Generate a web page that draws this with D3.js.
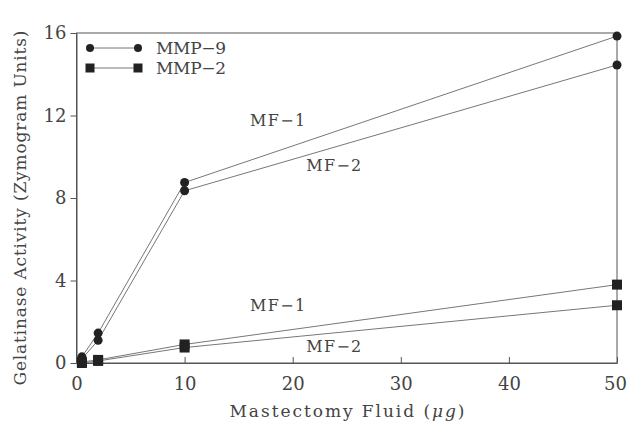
<!DOCTYPE html>
<html>
<head>
<meta charset="utf-8">
<script src="https://cdn.jsdelivr.net/npm/d3@7"></script>
<style>
  body { margin: 0; background: #fff; }
  text { font-family: "DejaVu Serif", "Liberation Serif", serif; fill: #444; }
</style>
</head>
<body>
<div id="chart"></div>
<script>
// data
const doses = [0.5, 2, 10, 50];
const mmp9MF1 = [0.3, 1.45, 8.75, 15.85];
const mmp9MF2 = [0.2, 1.1, 8.35, 14.45];
const mmp2MF1 = [0.05, 0.15, 0.9, 3.8];
const mmp2MF2 = [0.0, 0.1, 0.75, 2.8];
const xTicks = [0, 10, 20, 30, 40, 50];
const yTicks = [0, 4, 8, 12, 16];
// annotation labels: [text, x, y] in data units
const seriesLabels = [
  ["MF\u22121", 18.6, 11.5],
  ["MF\u22122", 23.8, 9.3],
  ["MF\u22121", 18.6, 2.5],
  ["MF\u22122", 23.8, 0.55]
];

const svgWidth = 627;
const svgHeight = 421;
const margin = { top: 33, right: 10, bottom: 58, left: 76.5 };
const width = 617 - margin.left;
const height = 363 - margin.top;

const svg = d3.select("#chart").append("svg")
  .attr("width", svgWidth)
  .attr("height", svgHeight);

const g = svg.append("g")
  .attr("transform", `translate(${margin.left}, ${margin.top})`);

const x = d3.scaleLinear().domain([0, 50]).range([0, width]);
const y = d3.scaleLinear().domain([0, 16]).range([height, 0]);

// frame
g.append("rect")
  .attr("width", width).attr("height", height)
  .attr("fill", "none").attr("stroke", "#555").attr("stroke-width", 1);

// x axis, ticks pointing inward
const xAxis = g.append("g")
  .attr("transform", `translate(0, ${height})`)
  .call(d3.axisBottom(x).tickValues(xTicks).tickSizeInner(-6).tickSizeOuter(0).tickPadding(14));
xAxis.select(".domain").attr("stroke", "#555");
xAxis.selectAll("line").attr("stroke", "#555");
xAxis.selectAll("text")
  .attr("font-size", 18).attr("fill", "#555")
  .attr("dx", d => d === 50 ? -2 : 0);

// y axis, ticks pointing outward
const yAxis = g.append("g")
  .call(d3.axisLeft(y).tickValues(yTicks).tickSizeInner(6).tickSizeOuter(0).tickPadding(4));
yAxis.select(".domain").attr("stroke", "#555");
yAxis.selectAll("line").attr("stroke", "#555");
yAxis.selectAll("text")
  .attr("font-size", 18).attr("fill", "#555");

// axis titles
svg.append("text")
  .attr("x", 347).attr("y", 417)
  .attr("text-anchor", "middle").attr("font-size", 17)
  .attr("textLength", 235).attr("lengthAdjust", "spacing")
  .html('Mastectomy Fluid (<tspan font-style="italic">\u03bcg</tspan>)');

svg.append("text")
  .attr("transform", "translate(26, 208) rotate(-90)")
  .attr("text-anchor", "middle").attr("font-size", 17)
  .attr("textLength", 355).attr("lengthAdjust", "spacing")
  .text("Gelatinase Activity (Zymogram Units)");

const line = d3.line()
  .x((d, i) => x(doses[i]))
  .y(d => y(d));

const series = [
  { values: mmp9MF1, shape: "circle" },
  { values: mmp9MF2, shape: "circle" },
  { values: mmp2MF1, shape: "square" },
  { values: mmp2MF2, shape: "square" }
];

series.forEach(s => {
  g.append("path")
    .datum(s.values)
    .attr("d", line)
    .attr("fill", "none")
    .attr("stroke", "#777")
    .attr("stroke-width", 1);
});

series.forEach(s => {
  if (s.shape === "circle") {
    g.selectAll(null).data(s.values).enter().append("circle")
      .attr("cx", (d, i) => x(doses[i]))
      .attr("cy", d => y(d))
      .attr("r", 4.5)
      .attr("fill", "#222");
  } else {
    g.selectAll(null).data(s.values).enter().append("rect")
      .attr("x", (d, i) => x(doses[i]) - 5)
      .attr("y", d => y(d) - 5)
      .attr("width", 10).attr("height", 10)
      .attr("fill", "#222");
  }
});

// in-plot labels
g.selectAll(".lbl").data(seriesLabels).enter().append("text")
  .attr("x", d => x(d[1]))
  .attr("y", d => y(d[2]))
  .attr("text-anchor", "middle")
  .attr("font-size", 16)
  .attr("textLength", 55).attr("lengthAdjust", "spacing")
  .text(d => d[0]);

// legend
const legend = svg.append("g").attr("transform", "translate(90, 48)");
const legendItems = [["MMP\u22129", "circle"], ["MMP\u22122", "square"]];
legendItems.forEach((item, i) => {
  const row = legend.append("g").attr("transform", `translate(0, ${i * 20})`);
  row.append("line")
    .attr("x1", 0).attr("x2", 48)
    .attr("stroke", "#777");
  [0, 48].forEach(px => {
    if (item[1] === "circle") {
      row.append("circle").attr("cx", px).attr("r", 4).attr("fill", "#222");
    } else {
      row.append("rect").attr("x", px - 4.5).attr("y", -4.5)
        .attr("width", 9).attr("height", 9).attr("fill", "#222");
    }
  });
  row.append("text")
    .attr("x", 66).attr("y", 6)
    .attr("font-size", 17)
    .attr("textLength", 70).attr("lengthAdjust", "spacing")
    .text(item[0]);
});
</script>
</body>
</html>
